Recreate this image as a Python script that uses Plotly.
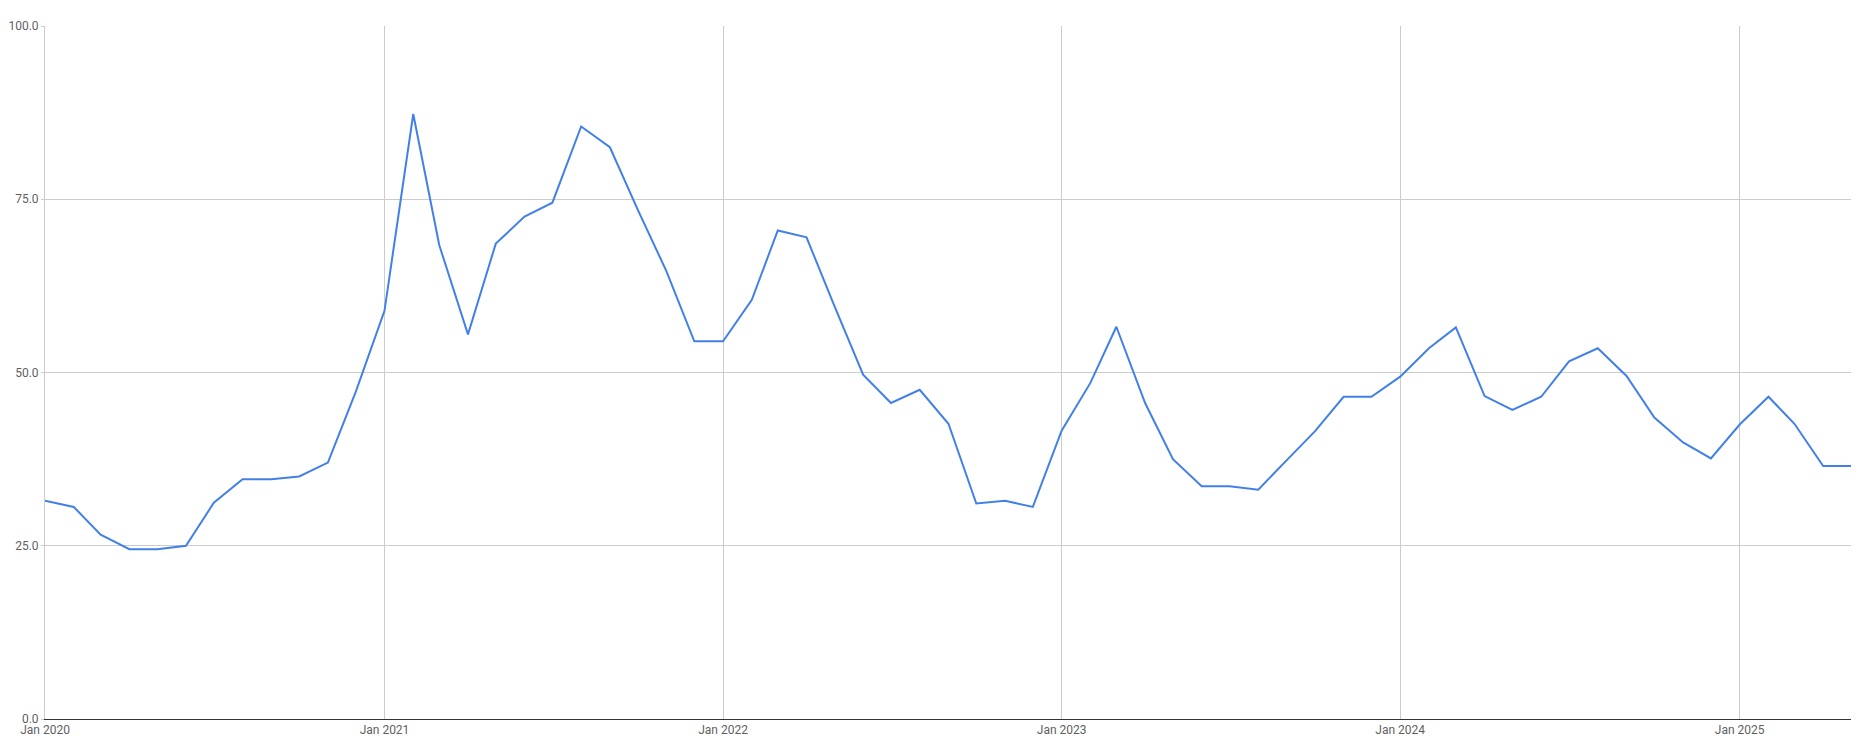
import pandas as pd
import plotly.graph_objects as go

start_month = "2020-01-01"
values = [
    31.5, 30.6, 26.6, 24.5, 24.5, 25.0, 31.2, 34.6, 34.6, 35.0, 37.0, 47.2,
    58.9, 87.3, 68.4, 55.5, 68.6, 72.5, 74.5, 85.5, 82.5, 73.5, 64.6, 54.5,
    54.5, 60.5, 70.5, 69.5, 59.6, 49.7, 45.6, 47.5, 42.6, 31.1, 31.5, 30.6,
    41.6, 48.5, 56.6, 45.6, 37.5, 33.6, 33.6, 33.1, 37.4, 41.5, 46.5, 46.5,
    49.4, 53.5, 56.5, 46.6, 44.6, 46.5, 51.6, 53.5, 49.5, 43.5, 39.9, 37.6,
    42.5, 46.5, 42.6, 36.5, 36.5,
]
dates = pd.date_range(start_month, periods=len(values), freq="MS")

x_tick_vals = ["2020-01-01", "2021-01-01", "2022-01-01", "2023-01-01", "2024-01-01", "2025-01-01"]
x_tick_text = ["Jan 2020", "Jan 2021", "Jan 2022", "Jan 2023", "Jan 2024", "Jan 2025"]
y_tick_vals = [0, 25, 50, 75, 100]
y_tick_text = ["0.0", "25.0", "50.0", "75.0", "100.0"]

fig = go.Figure()
fig.add_trace(go.Scatter(
    x=dates, y=values, mode="lines",
    line=dict(color="#4280e8", width=2),
    hoverinfo="skip", showlegend=False,
))

# page body has an 8px default margin; margins below compensate for it
fig.update_layout(
    width=1857, height=740,
    margin=dict(l=37, r=14, t=18, b=29, autoexpand=False),
    paper_bgcolor="white", plot_bgcolor="white",
    font=dict(family="Roboto, Arial, sans-serif", size=12, color="#5f5f5f"),
)
fig.update_xaxes(
    range=[dates[0], dates[-1]],
    tickvals=x_tick_vals, ticktext=x_tick_text,
    showgrid=True, gridcolor="#cccccc", gridwidth=1,
    showline=True, linecolor="#333333", linewidth=1,
    ticks="", ticklen=0, zeroline=False, automargin=False,
    tickfont=dict(size=12, color="#5f5f5f"),
)
fig.update_yaxes(
    range=[0, 100],
    tickvals=y_tick_vals, ticktext=y_tick_text,
    showgrid=True, gridcolor="#cccccc", gridwidth=1,
    showline=True, linecolor="#cccccc", linewidth=1,
    ticks="outside", ticklen=3, tickcolor="#cccccc",
    zeroline=False, automargin=False,
    tickfont=dict(size=12, color="#5f5f5f"),
)

fig.write_html("out.html")
